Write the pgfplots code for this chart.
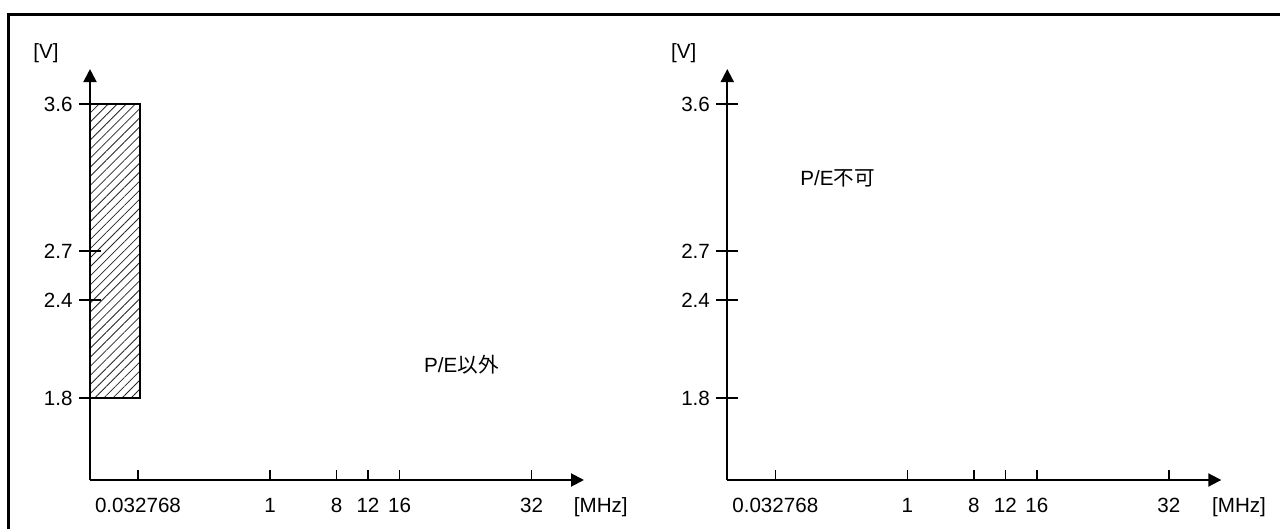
\documentclass[border=0pt]{standalone}
\usepackage{pgfplots}
\pgfplotsset{compat=1.18}
\usepackage{fontspec}
\setmainfont{Liberation Sans}
\newfontfamily\cjk{Noto Sans CJK JP}
\usetikzlibrary{arrows.meta,patterns.meta}

\tikzset{lbl/.style={inner sep=0pt, font=\fontsize{10.3}{12}\selectfont}}

\pgfplotsset{
 panel/.style={
  x=0.5pt, y=81.667pt,
  xmin=0, xmax=494, ymin=1.298, ymax=3.814,
  axis lines=left,
  axis line style={line width=1pt, -{Triangle[length=6.5pt,width=6.5pt]}},
  tick align=inside, major tick length=5pt,
  tick style={line width=0.75pt, black},
  xtick={48,180,246.5,278,309.5,441.5},
  xticklabels={0.032768,1,8,12,16,32},
  ytick={1.8,2.4,2.7,3.6},
  yticklabels={1.8,2.4,2.7,3.6},
  ytick style={draw=none},
  every tick label/.append style={inner sep=0pt, font=\fontsize{10.3}{12}\selectfont},
  xticklabel style={anchor=base, yshift=-16.25pt},
  yticklabel style={anchor=east, xshift=-8.5pt},
  clip=false,
  anchor=south west,
 },
}

\begin{document}
\begin{tikzpicture}
\path[use as bounding box] (0,0) rectangle (640pt,-264.5pt);
\draw[line width=1.4pt] (4.15pt,-270pt) -- (4.15pt,-7.35pt) -- (645pt,-7.35pt);

\begin{axis}[panel, at={(45pt,-240pt)}]
\addplot[draw=black, line width=1pt, pattern={Lines[angle=45,distance=3.2pt,line width=0.4pt]}, pattern color=black!85]
  coordinates {(0,1.8) (49.5,1.8) (49.5,3.6) (0,3.6)} -- cycle;
\draw[line width=0.75pt] (axis cs:0,1.8) ++(-5.5pt,0pt) -- ++(11pt,0pt);
\draw[line width=0.75pt] (axis cs:0,2.4) ++(-5.5pt,0pt) -- ++(11pt,0pt);
\draw[line width=0.75pt] (axis cs:0,2.7) ++(-5.5pt,0pt) -- ++(11pt,0pt);
\draw[line width=0.75pt] (axis cs:0,3.6) ++(-5.5pt,0pt) -- ++(11pt,0pt);
\node[lbl] at (axis cs:-44,3.912) {[V]};
\node[lbl, anchor=base west] at (axis cs:483.5,1.099) {[MHz]};
\node[lbl, anchor=west] at (axis cs:333.8,2.002) {P/E{\cjk 以外}};
\end{axis}

\begin{axis}[panel, at={(363.65pt,-240pt)}]
\draw[line width=0.75pt] (axis cs:0,1.8) ++(-5.5pt,0pt) -- ++(11pt,0pt);
\draw[line width=0.75pt] (axis cs:0,2.4) ++(-5.5pt,0pt) -- ++(11pt,0pt);
\draw[line width=0.75pt] (axis cs:0,2.7) ++(-5.5pt,0pt) -- ++(11pt,0pt);
\draw[line width=0.75pt] (axis cs:0,3.6) ++(-5.5pt,0pt) -- ++(11pt,0pt);
\node[lbl] at (axis cs:-43.5,3.912) {[V]};
\node[lbl, anchor=base west] at (axis cs:484.4,1.099) {[MHz]};
\node[lbl, anchor=west] at (axis cs:72.7,3.145) {P/E{\cjk 不可}};
\end{axis}
\end{tikzpicture}
\end{document}
